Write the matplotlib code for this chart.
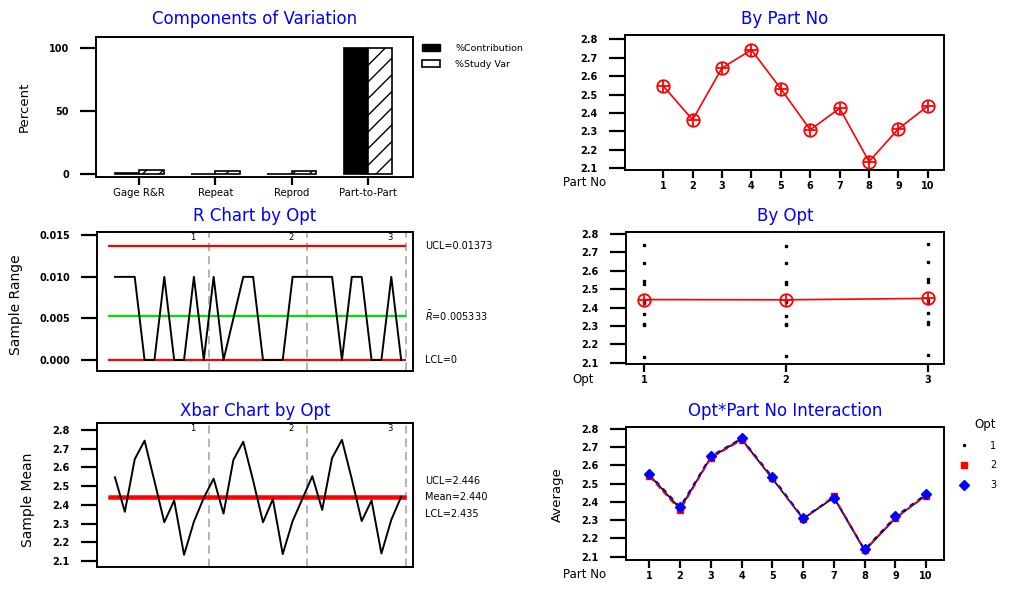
import numpy as np
import matplotlib
matplotlib.use("Agg")
import matplotlib.pyplot as plt
import matplotlib.transforms as mtransforms
from matplotlib.patches import Patch
from matplotlib.lines import Line2D

# components of variation
components = ["Gage R&R", "Repeat", "Reprod", "Part-to-Part"]
pct_contribution = [0.1, 0.05, 0.05, 99.9]
pct_study_var = [3.0, 1.7, 1.7, 99.95]

# part averages for each operator (Opt 1, 2, 3)
parts = [1, 2, 3, 4, 5, 6, 7, 8, 9, 10]
opt1_avg = [2.547, 2.363, 2.643, 2.743, 2.527, 2.307, 2.423, 2.133, 2.310, 2.437]
opt2_avg = [2.540, 2.353, 2.640, 2.737, 2.530, 2.307, 2.430, 2.137, 2.313, 2.433]
opt3_avg = [2.553, 2.373, 2.650, 2.747, 2.537, 2.313, 2.423, 2.140, 2.320, 2.443]
opts = [1, 2, 3]

# subgroup ranges (10 parts x 3 operators)
r_values = [0.010, 0.010, 0.010, 0.000, 0.000, 0.010, 0.000, 0.000, 0.010, 0.000,
            0.010, 0.000, 0.005, 0.010, 0.010, 0.000, 0.000, 0.000, 0.010, 0.010,
            0.010, 0.010, 0.010, 0.000, 0.010, 0.010, 0.000, 0.000, 0.010, 0.000]

# control limits as printed on the charts
r_ucl, r_bar, r_lcl = 0.01373, 0.005333, 0.0
xbar_ucl, xbar_mean, xbar_lcl = 2.4463, 2.4408, 2.4353
r_labels = ["UCL=0.01373", r"$\bar{R}$=0.005333", "LCL=0"]
xbar_labels = ["UCL=2.446", "Mean=2.440", "LCL=2.435"]

W, H = 1010, 594
fig = plt.figure(figsize=(W / 100, H / 100), dpi=100)
fig.patch.set_facecolor("white")

TITLE = dict(color="#0000ff", fontsize=12)


def px_axes(l, t, r, b):
    return fig.add_axes([l / W, 1 - b / H, (r - l) / W, (b - t) / H])


def style(ax, xticks=True):
    for s in ax.spines.values():
        s.set_linewidth(1.4)
    ax.tick_params(axis="y", direction="out", length=11.5, width=1.6, pad=8,
                   labelsize=7)
    ax.tick_params(axis="x", direction="out", length=6, width=1.6, pad=2,
                   labelsize=7)
    for lab in ax.get_yticklabels() + ax.get_xticklabels():
        lab.set_fontweight("bold")
    if not xticks:
        ax.tick_params(axis="x", bottom=False, labelbottom=False)


def ylab(text, x, y, size):
    fig.text(x / W, 1 - y / H, text, rotation=90, ha="center", va="center",
             fontsize=size)


def oplus(ax, x, y):
    ax.plot(x, y, ls="none", marker="o", ms=9, mfc="none", mec="red", mew=1.3)
    ax.plot(x, y, ls="none", marker="+", ms=9, mec="red", mew=1.3)


# ---- Components of Variation
ax = px_axes(96, 37, 413, 177)
xc = np.arange(len(components))
ax.bar(xc - 0.16, pct_contribution, width=0.32, color="black",
       edgecolor="black", lw=1.2, label="%Contribution")
ax.bar(xc + 0.16, pct_study_var, width=0.32, color="white", edgecolor="black",
       lw=1.2, hatch="//", label="%Study Var")
ax.set_xlim(-0.566, 3.59)
ax.set_ylim(-2.7, 108.7)
ax.set_yticks([0, 50, 100])
ax.set_xticks(xc)
ax.set_xticklabels(components)
style(ax)
for lab in ax.get_xticklabels():
    lab.set_fontweight("normal")
    lab.set_fontsize(7.3)
ax.set_title("Components of Variation", pad=9, **TITLE)
ylab("Percent", 24, 107, 9.5)
handles = [Patch(facecolor="black", edgecolor="black"),
           Patch(facecolor="white", edgecolor="black", lw=1.2)]
fig.legend(handles, ["%Contribution", "%Study Var"], loc="upper left",
           bbox_to_anchor=(422 / W, 1 - 44 / H), frameon=False, fontsize=6.8,
           handlelength=1.9, handleheight=0.8, handletextpad=1.6,
           labelspacing=0.75, borderpad=0, borderaxespad=0)

# ---- By Part No
part_means = np.mean([opt1_avg, opt2_avg, opt3_avg], axis=0)
ax = px_axes(625, 35, 944, 170)
ax.plot(parts, part_means, color="red", lw=1.2)
oplus(ax, parts, part_means)
ax.set_xlim(-0.3, 10.55)
ax.set_ylim(2.091, 2.823)
ax.set_xticks(parts)
ax.set_yticks(np.round(np.arange(2.1, 2.81, 0.1), 1))
style(ax)
ax.set_title("By Part No", pad=8, **TITLE)
fig.text(585 / W, 1 - 183 / H, "Part No", ha="center", va="center", fontsize=8.5)

# ---- R Chart by Opt
subgroup = np.arange(1, 31)
ax = px_axes(97, 232, 413, 371)
ax.plot(subgroup, r_values, color="black", lw=1.4, zorder=3)
for v, c in zip([r_ucl, r_bar, r_lcl], ["red", "#00e000", "red"]):
    ax.hlines(v, 0.3, 30.5, color=c, lw=1.6, zorder=2)
for g in [10.5, 20.5, 30.5]:
    ax.axvline(g, color="#a8a8a8", ls=(0, (5, 3)), lw=1.2, zorder=1)
ax.set_xlim(-0.82, 31.2)
ax.set_ylim(-0.00133, 0.0154)
ax.set_yticks([0, 0.005, 0.010, 0.015])
ax.set_yticklabels(["0.000", "0.005", "0.010", "0.015"])
style(ax, xticks=False)
blend = mtransforms.blended_transform_factory(ax.transData, ax.transAxes)
for pos, lab in zip([8.9, 18.8, 28.9], ["1", "2", "3"]):
    ax.text(pos, 0.995, lab, transform=blend, ha="center", va="top", fontsize=6)
blend = mtransforms.blended_transform_factory(ax.transAxes, ax.transData)
for v, lab in zip([r_ucl, r_bar, r_lcl], r_labels):
    ax.annotate(lab, xy=(1, v), xycoords=blend, xytext=(8.5, 0),
                textcoords="offset points", va="center", fontsize=7)
ax.set_title("R Chart by Opt", pad=8, **TITLE)
ylab("Sample Range", 16, 305, 10)

# ---- By Opt
opt_means = [np.mean(opt1_avg), np.mean(opt2_avg), np.mean(opt3_avg)]
ax = px_axes(626, 232, 944, 364)
for o, vals in zip(opts, [opt1_avg, opt2_avg, opt3_avg]):
    ax.plot([o] * len(vals), vals, ls="none", marker="s", ms=1.6, color="black")
ax.plot(opts, opt_means, color="red", lw=1.2)
oplus(ax, opts, opt_means)
ax.set_xlim(0.873, 3.115)
ax.set_ylim(2.093, 2.811)
ax.set_xticks(opts)
ax.set_yticks(np.round(np.arange(2.1, 2.81, 0.1), 1))
style(ax)
ax.set_title("By Opt", pad=8, **TITLE)
fig.text(583 / W, 1 - 380 / H, "Opt", ha="center", va="center", fontsize=8.5)

# ---- Xbar Chart by Opt
xbar_values = opt1_avg + opt2_avg + opt3_avg
ax = px_axes(97, 423, 413, 567)
ax.plot(subgroup, xbar_values, color="black", lw=1.4, zorder=3)
for v in [xbar_ucl, xbar_mean, xbar_lcl]:
    ax.hlines(v, 0.3, 30.5, color="red", lw=1.8, zorder=2)
for g in [10.5, 20.5, 30.5]:
    ax.axvline(g, color="#a8a8a8", ls=(0, (5, 3)), lw=1.2, zorder=1)
ax.set_xlim(-0.82, 31.2)
ax.set_ylim(2.068, 2.837)
ax.set_yticks(np.round(np.arange(2.1, 2.81, 0.1), 1))
style(ax, xticks=False)
blend = mtransforms.blended_transform_factory(ax.transData, ax.transAxes)
for pos, lab in zip([8.9, 18.8, 28.9], ["1", "2", "3"]):
    ax.text(pos, 0.995, lab, transform=blend, ha="center", va="top", fontsize=6)
blend = mtransforms.blended_transform_factory(ax.transAxes, ax.transData)
for dy, lab in zip([12, 0, -12], xbar_labels):
    ax.annotate(lab, xy=(1, xbar_mean), xycoords=blend, xytext=(8.5, dy),
                textcoords="offset points", va="center", fontsize=7)
ax.set_title("Xbar Chart by Opt", pad=5, **TITLE)
ylab("Sample Mean", 28, 500, 10)

# ---- Opt*Part No Interaction
ax = px_axes(626, 427, 944, 560)
ax.plot(parts, opt1_avg, color="black", lw=1.2, marker=".", ms=3, label="1")
ax.plot(parts, opt2_avg, color="red", lw=1.2, ls=(0, (4, 2)), marker="s",
        ms=4, label="2")
ax.plot(parts, opt3_avg, color="blue", lw=1.2, ls=(0, (3, 3)), marker="D",
        ms=5.5, label="3")
ax.set_xlim(0.244, 10.58)
ax.set_ylim(2.082, 2.809)
ax.set_xticks(parts)
ax.set_yticks(np.round(np.arange(2.1, 2.81, 0.1), 1))
style(ax)
ax.set_title("Opt*Part No Interaction", pad=8, **TITLE)
ylab("Average", 557, 495, 9.5)
fig.text(585 / W, 1 - 575 / H, "Part No", ha="center", va="center", fontsize=8.5)
handles = [Line2D([], [], ls="none", marker=".", ms=3, color="black"),
           Line2D([], [], ls="none", marker="s", ms=4, color="red"),
           Line2D([], [], ls="none", marker="D", ms=5.5, color="blue")]
fig.legend(handles, ["1", "2", "3"], title="Opt", loc="upper left",
           bbox_to_anchor=(959 / W, 1 - 418 / H), frameon=False, fontsize=7,
           title_fontsize=8.5, handlelength=1.0, handletextpad=2.2,
           labelspacing=1.0, borderpad=0, borderaxespad=0, alignment="right")

fig.savefig("out.png", dpi=100, facecolor="white")
